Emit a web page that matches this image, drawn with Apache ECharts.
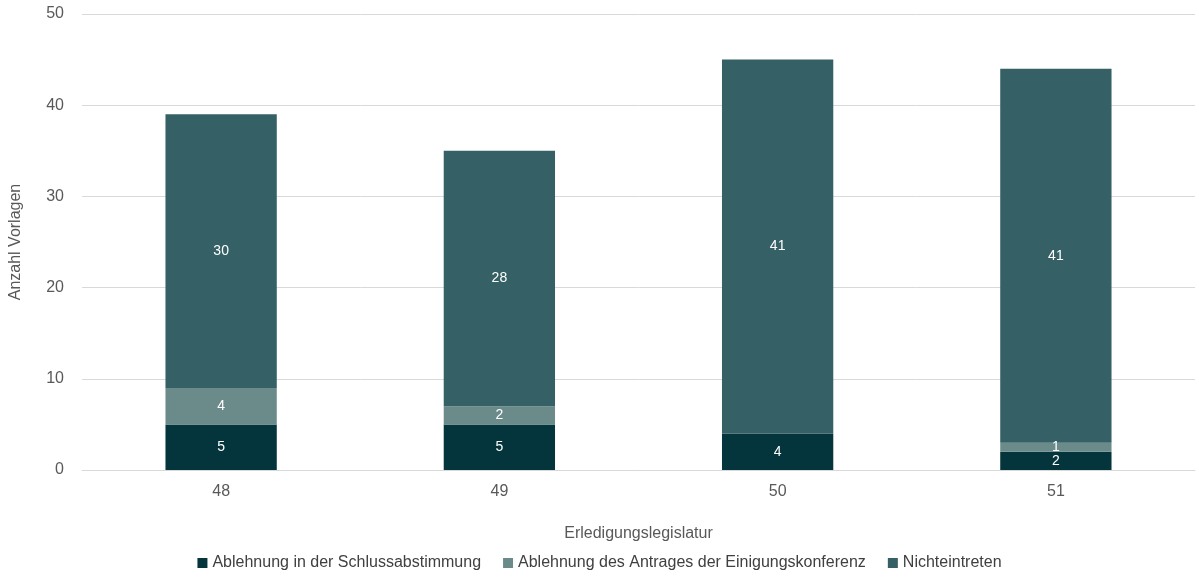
<!DOCTYPE html>
<html><head><meta charset="utf-8">
<script src="https://cdn.jsdelivr.net/npm/echarts@6/dist/echarts.min.js"></script>
<style>html,body{margin:0;padding:0;background:#fff}#c{width:1199px;height:588px}</style>
</head><body><div id="c"></div>
<script>
const categories = ['48','49','50','51'];
const schluss = [5,5,4,2];
const einigung = [4,2,0,1];
const nichteintreten = [30,28,41,41];
const seriesNames = ['Ablehnung in der Schlussabstimmung','Ablehnung des Antrages der Einigungskonferenz','Nichteintreten'];
const colors = ['#04353d','#6b8b8b','#356066'];
const chart = echarts.init(document.getElementById('c'));
const lbl = {show:true,color:'#fff',fontSize:14,fontFamily:'Arial, Liberation Sans',formatter:p=>p.value?p.value:''};
chart.setOption({
  animation:false,
  textStyle:{fontFamily:'Arial, Liberation Sans'},
  grid:{left:82,right:4,top:14,bottom:118},
  legend:{bottom:12,itemWidth:10,itemHeight:10,itemGap:22,icon:'rect',textStyle:{fontSize:16,color:'#404040'},data:seriesNames},
  xAxis:{type:'category',data:categories,name:'Erledigungslegislatur',nameLocation:'middle',nameGap:56,
    nameTextStyle:{fontSize:16,color:'#595959'},axisTick:{show:false},axisLine:{lineStyle:{color:'#d9d9d9'}},
    axisLabel:{fontSize:16,color:'#595959',margin:14}},
  yAxis:{type:'value',min:0,max:50,interval:10,name:'Anzahl Vorlagen',nameLocation:'middle',nameGap:58,
    nameTextStyle:{fontSize:16,color:'#595959'},splitLine:{lineStyle:{color:'#d9d9d9'}},
    axisLabel:{fontSize:16,color:'#595959',margin:18}},
  series:[
    {name:seriesNames[0],type:'bar',stack:'a',data:schluss,barWidth:'40%',itemStyle:{color:colors[0]},label:lbl},
    {name:seriesNames[1],type:'bar',stack:'a',data:einigung,itemStyle:{color:colors[1]},label:lbl},
    {name:seriesNames[2],type:'bar',stack:'a',data:nichteintreten,itemStyle:{color:colors[2]},label:lbl}
  ]
});
</script></body></html>
